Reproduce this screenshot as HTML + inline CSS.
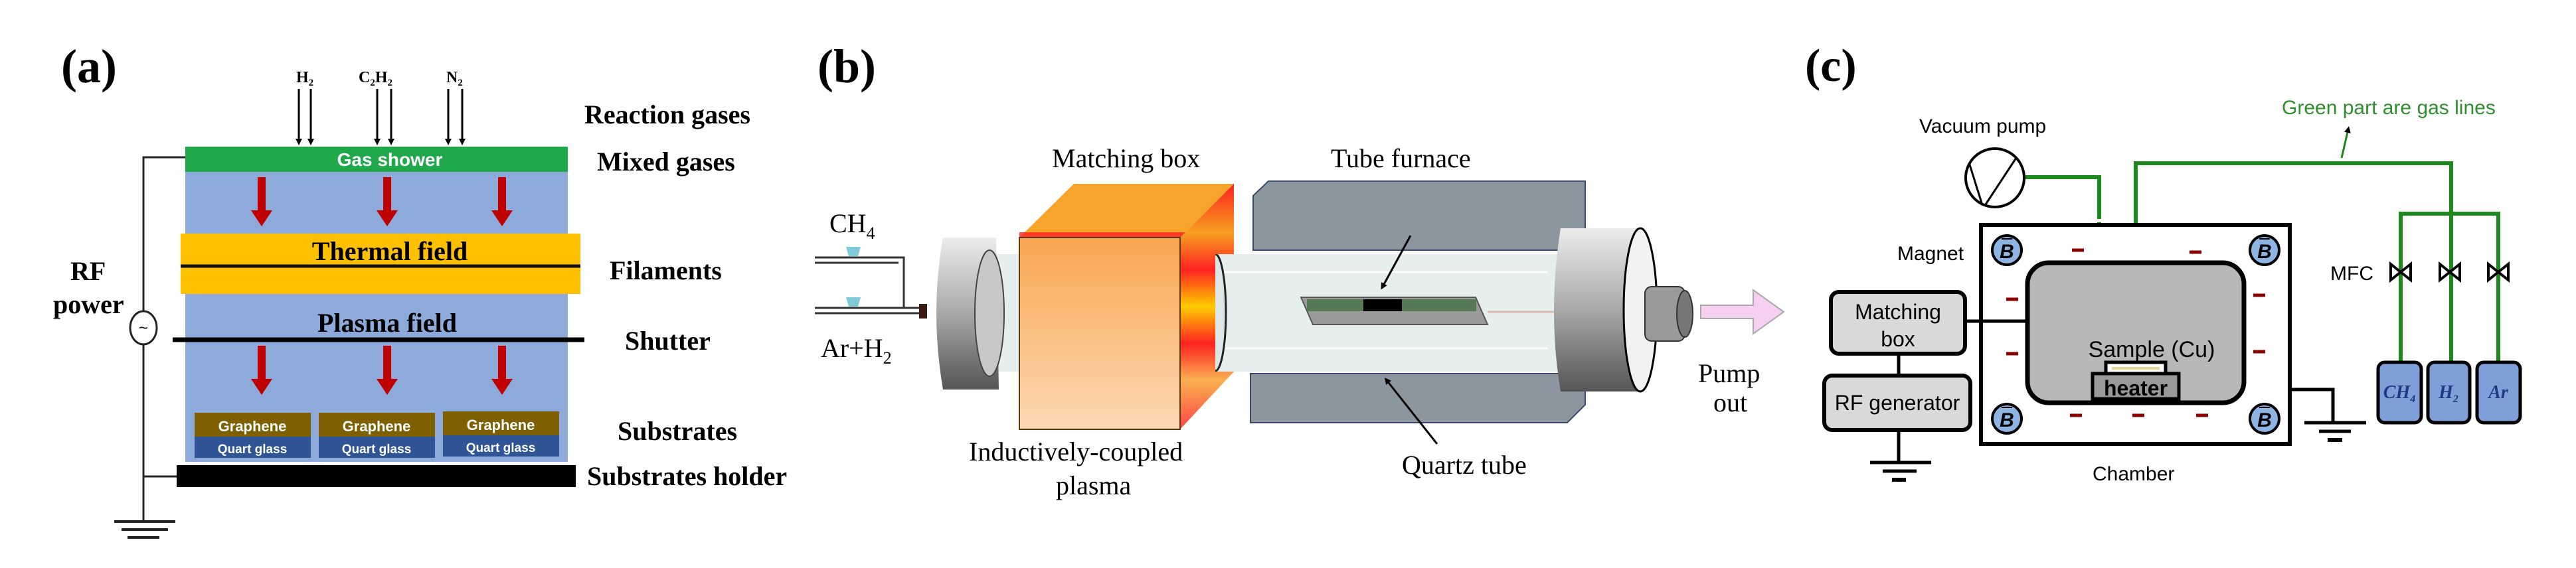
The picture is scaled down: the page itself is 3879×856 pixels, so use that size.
<!DOCTYPE html>
<html><head><meta charset="utf-8"><style>
html,body{margin:0;padding:0;background:#fff}
svg{display:block}
.s{font-family:"Liberation Serif",serif}
.a{font-family:"Liberation Sans",sans-serif}
</style></head><body>
<svg width="3879" height="856" viewBox="0 0 3879 856" xmlns="http://www.w3.org/2000/svg">
<defs>
<marker id="ah" markerWidth="10" markerHeight="10" refX="5" refY="5" orient="auto" markerUnits="userSpaceOnUse"><path d="M0,0 L10,5 L0,10z" fill="#000"/></marker>
<linearGradient id="fl" x1="0" y1="0" x2="0" y2="1"><stop offset="0" stop-color="#ececec"/><stop offset="0.5" stop-color="#a8a8a8"/><stop offset="1" stop-color="#555"/></linearGradient>
<linearGradient id="mb" x1="0" y1="0" x2="0" y2="1"><stop offset="0" stop-color="#f8a650"/><stop offset="1" stop-color="#fdd8b4"/></linearGradient>
<linearGradient id="sd" x1="0" y1="0" x2="0" y2="1"><stop offset="0" stop-color="#ff2020"/><stop offset="0.2" stop-color="#f6a020"/><stop offset="0.35" stop-color="#f22"/><stop offset="0.5" stop-color="#fc0"/><stop offset="0.65" stop-color="#f22"/><stop offset="0.8" stop-color="#f9b050"/><stop offset="1" stop-color="#f44"/></linearGradient>
</defs>

<!-- ===== Panel (a) ===== -->
<text x="92" y="124" class="s" font-size="72" font-weight="bold">(a)</text>
<g stroke="#000" stroke-width="3" marker-end="url(#ah)">
<line x1="450" y1="134" x2="450" y2="214"/><line x1="468" y1="134" x2="468" y2="214"/>
<line x1="568" y1="134" x2="568" y2="214"/><line x1="589" y1="134" x2="589" y2="214"/>
<line x1="675" y1="134" x2="675" y2="214"/><line x1="696" y1="134" x2="696" y2="214"/>
</g>
<g class="s" font-size="24" font-weight="bold">
<text x="446" y="124">H<tspan font-size="15" dy="5">2</tspan></text>
<text x="540" y="124">C<tspan font-size="15" dy="5">2</tspan><tspan dy="-5">H</tspan><tspan font-size="15" dy="5">2</tspan></text>
<text x="672" y="124">N<tspan font-size="15" dy="5">2</tspan></text>
</g>
<rect x="279" y="259" width="576" height="437" fill="#8eaadb"/>
<rect x="279" y="221" width="576" height="38" fill="#1fa84a"/>
<text x="587" y="250" text-anchor="middle" class="a" font-size="28" font-weight="bold" fill="#fff">Gas shower</text>
<rect x="272" y="352" width="602" height="91" fill="#ffc000"/>
<line x1="272" y1="401" x2="874" y2="401" stroke="#111" stroke-width="5"/>
<text x="587" y="392" text-anchor="middle" class="s" font-size="40" font-weight="bold">Thermal  field</text>
<text x="583" y="500" text-anchor="middle" class="s" font-size="40" font-weight="bold">Plasma field</text>
<line x1="260" y1="512" x2="880" y2="512" stroke="#000" stroke-width="7"/>
<g fill="#c00000">
<g id="ra"><rect x="388" y="267" width="12" height="52"/><path d="M378,317 L410,317 L394,341z"/></g>
<use href="#ra" x="189"/><use href="#ra" x="362"/>
<use href="#ra" y="254"/><use href="#ra" x="189" y="254"/><use href="#ra" x="362" y="254"/>
</g>
<g class="a" font-size="22" font-weight="bold" fill="#fff" text-anchor="middle">
<rect x="293" y="622" width="175" height="36" fill="#7f6000"/><rect x="293" y="658" width="175" height="32" fill="#2f5597"/>
<rect x="480" y="622" width="175" height="36" fill="#7f6000"/><rect x="480" y="658" width="175" height="32" fill="#2f5597"/>
<rect x="667" y="620" width="175" height="36" fill="#7f6000"/><rect x="667" y="656" width="175" height="32" fill="#2f5597"/>
<text x="380" y="650">Graphene</text><text x="380" y="683" font-size="19">Quart glass</text>
<text x="567" y="650">Graphene</text><text x="567" y="683" font-size="19">Quart glass</text>
<text x="754" y="648">Graphene</text><text x="754" y="681" font-size="19">Quart glass</text>
</g>
<rect x="266" y="701" width="601" height="33" fill="#000"/>
<g stroke="#222" stroke-width="3" fill="none">
<polyline points="279,237 216,237 216,470"/>
<line x1="216" y1="518" x2="216" y2="786"/>
<line x1="216" y1="718" x2="266" y2="718"/>
<ellipse cx="216" cy="494" rx="20" ry="25" fill="#fff"/>
<line x1="172" y1="786" x2="264" y2="786" stroke-width="4"/>
<line x1="183" y1="798" x2="253" y2="798" stroke-width="4"/>
<line x1="192" y1="810" x2="240" y2="810" stroke-width="4"/>
</g>
<text x="216" y="502" text-anchor="middle" font-size="24" font-family="Liberation Sans">~</text>
<g class="s" font-size="40" font-weight="bold">
<text x="106" y="422">RF</text><text x="80" y="472">power</text>
<text x="880" y="186">Reaction gases</text>
<text x="899" y="257">Mixed gases</text>
<text x="918" y="421">Filaments</text>
<text x="941" y="527">Shutter</text>
<text x="930" y="663">Substrates</text>
<text x="884" y="731">Substrates holder</text>
</g>

<!-- ===== Panel (b) ===== -->
<text x="1231" y="124" class="s" font-size="72" font-weight="bold">(b)</text>
<g class="s" font-size="40">
<text x="1584" y="252">Matching box</text>
<text x="2004" y="252">Tube furnace</text>
<text x="1249" y="350">CH<tspan font-size="26" dy="10">4</tspan></text>
<text x="1236" y="538">Ar+H<tspan font-size="26" dy="10">2</tspan></text>
<text x="2039" y="343">Substrate</text>
<text x="2111" y="714">Quartz tube</text>
<text x="1459" y="694">Inductively-coupled</text>
<text x="1590" y="745">plasma</text>
<text x="2557" y="576">Pump</text>
<text x="2580" y="620">out</text>
</g>
<path d="M1887,295 L1910,273 L2387,273 L2387,377 L1887,377z" fill="#8c969f" stroke="#3b4a6b" stroke-width="2"/>
<path d="M1883,563 L2387,563 L2387,610 L2360,637 L1883,637z" fill="#8c969f" stroke="#3b4a6b" stroke-width="2"/>
<rect x="1468" y="383" width="900" height="177" fill="#e6eeee"/>
<line x1="1830" y1="410" x2="2330" y2="410" stroke="#fff" stroke-width="3"/>
<line x1="1830" y1="525" x2="2330" y2="525" stroke="#fff" stroke-width="3"/>
<line x1="2240" y1="470" x2="2340" y2="470" stroke="#d8b8a8" stroke-width="3"/>
<ellipse cx="1830" cy="471" rx="16" ry="88" fill="#dde6e6" stroke="#222" stroke-width="3"/>
<path d="M1959,448 L2222,448 L2240,489 L1977,489z" fill="#9a9a9a" stroke="#555" stroke-width="2"/>
<rect x="1968" y="451" width="255" height="18" fill="#557a55"/>
<rect x="2053" y="451" width="58" height="18" fill="#000"/>
<line x1="2124" y1="355" x2="2082" y2="432" stroke="#000" stroke-width="3" marker-end="url(#ah)"/>
<line x1="2164" y1="669" x2="2088" y2="573" stroke="#000" stroke-width="3" marker-end="url(#ah)"/>
<path d="M1420,358 L1500,358 L1504,587 L1420,587 Q1400,470 1420,358z" fill="url(#fl)"/>
<ellipse cx="1490" cy="472" rx="22" ry="95" fill="#c8c8c8" stroke="#444" stroke-width="2"/>
<path d="M1535,358 L1617,277 L1858,277 L1777,358z" fill="#f6a42a"/>
<rect x="1535" y="350" width="320" height="16" fill="#f22" opacity="0.8"/>
<path d="M1777,358 L1858,277 L1858,383 L1830,383 L1830,560 L1858,560 L1777,647z" fill="url(#sd)"/>
<rect x="1535" y="358" width="242" height="289" fill="url(#mb)" stroke="#5a3a10" stroke-width="2"/>
<path d="M2350,344 L2470,344 L2495,470 L2470,590 L2350,590 Q2330,470 2350,344z" fill="url(#fl)"/>
<ellipse cx="2470" cy="467" rx="25" ry="123" fill="#f2f2f2" stroke="#000" stroke-width="3"/>
<rect x="2477" y="432" width="60" height="82" rx="10" fill="#9a9a9a" stroke="#333" stroke-width="2"/>
<ellipse cx="2537" cy="473" rx="12" ry="35" fill="#777" stroke="#333" stroke-width="2"/>
<g stroke="#333" stroke-width="3" fill="none">
<polyline points="1227,388 1361,388 1361,464"/>
<line x1="1227" y1="464" x2="1388" y2="464"/>
<line x1="1227" y1="396" x2="1353" y2="396"/>
<line x1="1227" y1="472" x2="1388" y2="472"/>
</g>
<path d="M1274,372 L1296,372 L1292,386 L1278,386z" fill="#7ecad8"/>
<path d="M1274,448 L1296,448 L1292,462 L1278,462z" fill="#7ecad8"/>
<rect x="1384" y="458" width="12" height="22" fill="#3a1a10"/>
<path d="M2561,460 L2640,460 L2640,437 L2686,470 L2640,503 L2640,480 L2561,480z" fill="#f6d0f0" stroke="#aaa" stroke-width="2"/>

<!-- ===== Panel (c) ===== -->
<text x="2718" y="122" class="s" font-size="70" font-weight="bold">(c)</text>
<g class="a" font-size="30">
<text x="3436" y="172" fill="#2f8f2f">Green part are gas lines</text>
<text x="2890" y="200">Vacuum pump</text>
<text x="2857" y="392">Magnet</text>
<text x="3509" y="422">MFC</text>
<text x="3151" y="724">Chamber</text>
</g>
<g stroke="#1e8a1e" stroke-width="6" fill="none">
<polyline points="3050,267 3161,267 3161,330"/>
<line x1="3161" y1="335" x2="3161" y2="467" stroke-dasharray="8,8"/>
<line x1="3161" y1="467" x2="3178" y2="467" stroke-dasharray="8,8"/>
<polyline points="3216,395 3216,246 3691,246 3691,546"/>
<polyline points="3615,546 3615,322 3762,322 3762,546"/>
<circle cx="3206" cy="463" r="25" stroke-width="4" stroke-dasharray="9,6"/>
</g>
<line x1="3526" y1="238" x2="3536" y2="195" stroke="#1e8a1e" stroke-width="3" marker-end="url(#ah)"/>
<text x="3252" y="474" class="a" font-size="28" fill="#2f8f2f">Back side</text>
<circle cx="3004" cy="268" r="44" fill="#fff" stroke="#000" stroke-width="4"/>
<polyline points="2965,245 2985,309 M2985,309" fill="none" stroke="#000" stroke-width="3"/>
<line x1="3036" y1="238" x2="2990" y2="308" stroke="#000" stroke-width="3"/>
<rect x="2983" y="339" width="465" height="330" fill="#fff" stroke="#000" stroke-width="6"/>
<rect x="3053" y="396" width="326" height="211" rx="32" fill="#b8b8b8" stroke="#000" stroke-width="7"/>
<rect x="3171" y="546" width="90" height="18" fill="#fff" stroke="#000" stroke-width="5"/>
<line x1="3180" y1="555" x2="3252" y2="555" stroke="#e8d890" stroke-width="4"/>
<rect x="3151" y="563" width="130" height="38" fill="#999" stroke="#000" stroke-width="5"/>
<text x="3216" y="596" text-anchor="middle" class="a" font-size="32" font-weight="bold">heater</text>
<text x="3240" y="538" text-anchor="middle" class="a" font-size="34">Sample (Cu)</text>
<g class="a" font-size="30" font-style="italic" font-weight="bold" text-anchor="middle">
<g id="mg"><circle cx="3022" cy="377" r="22" fill="#8eb4e3" stroke="#000" stroke-width="4"/><text x="3022" y="389">B</text><line x1="3014" y1="360" x2="3030" y2="360" stroke="#000" stroke-width="2"/></g>
<use href="#mg" x="388"/><use href="#mg" y="254"/><use href="#mg" x="388" y="254"/>
</g>
<g stroke="#8b0000" stroke-width="5">
<line x1="3120" y1="377" x2="3138" y2="377"/><line x1="3297" y1="380" x2="3315" y2="380"/>
<line x1="3021" y1="451" x2="3039" y2="451"/><line x1="3393" y1="445" x2="3411" y2="445"/>
<line x1="3021" y1="533" x2="3039" y2="533"/><line x1="3393" y1="530" x2="3411" y2="530"/>
<line x1="3117" y1="626" x2="3135" y2="626"/><line x1="3211" y1="626" x2="3229" y2="626"/><line x1="3307" y1="626" x2="3325" y2="626"/>
</g>
<rect x="2757" y="440" width="202" height="93" rx="12" fill="#d9d9d9" stroke="#000" stroke-width="6"/>
<text x="2858" y="481" text-anchor="middle" class="a" font-size="32">Matching</text>
<text x="2858" y="522" text-anchor="middle" class="a" font-size="32">box</text>
<rect x="2747" y="566" width="220" height="82" rx="12" fill="#d9d9d9" stroke="#000" stroke-width="6"/>
<text x="2857" y="618" text-anchor="middle" class="a" font-size="32">RF generator</text>
<g stroke="#000" stroke-width="5" fill="none">
<line x1="2959" y1="484" x2="3053" y2="484"/>
<line x1="2859" y1="533" x2="2859" y2="566"/>
<line x1="2859" y1="648" x2="2859" y2="697"/>
<line x1="2816" y1="697" x2="2908" y2="697"/>
<line x1="2835" y1="710" x2="2886" y2="710"/>
<line x1="2849" y1="723" x2="2870" y2="723" stroke-width="6"/>
<polyline points="3448,587 3513,587 3513,637"/>
<line x1="3470" y1="637" x2="3563" y2="637"/>
<line x1="3492" y1="650" x2="3540" y2="650"/>
<line x1="3505" y1="663" x2="3527" y2="663" stroke-width="6"/>
</g>
<g fill="#fff" stroke="#000" stroke-width="4">
<path d="M3600,398 L3630,422 L3630,398 L3600,422z"/>
<path d="M3674,398 L3704,422 L3704,398 L3674,422z"/>
<path d="M3747,398 L3777,422 L3777,398 L3747,422z"/>
</g>
<g fill="#7f9fd8" stroke="#000" stroke-width="5">
<rect x="3581" y="546" width="65" height="91" rx="10"/>
<rect x="3656" y="546" width="63" height="91" rx="10"/>
<rect x="3730" y="546" width="65" height="91" rx="10"/>
</g>
<g class="s" font-size="28" font-style="italic" font-weight="bold" fill="#1f3a80" text-anchor="middle">
<text x="3613" y="600">CH<tspan font-size="16" dy="6">4</tspan></text>
<text x="3687" y="600">H<tspan font-size="16" dy="6">2</tspan></text>
<text x="3762" y="600">Ar</text>
</g>
</svg>
</body></html>
